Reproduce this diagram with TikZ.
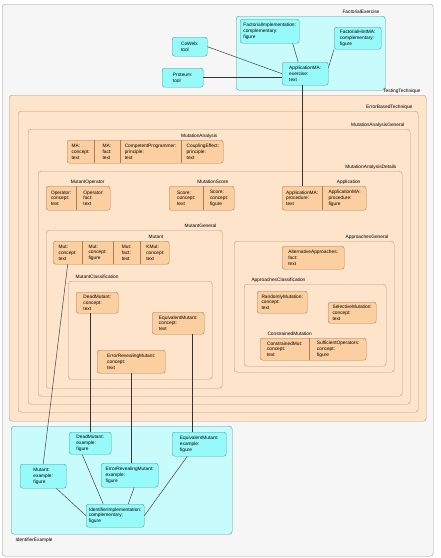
\documentclass[tikz,border=0pt]{standalone}
\usepackage{fontspec}
\setmainfont{Liberation Sans}
\usepackage{xcolor}
\definecolor{FrameFill}{HTML}{F6F6F6}
\definecolor{FrameLine}{HTML}{9C9C9C}
\definecolor{PeachFill}{HTML}{FDE4CA}
\definecolor{PeachLine}{HTML}{B39B84}
\definecolor{OrangeFill}{HTML}{FCCFA0}
\definecolor{OrangeLine}{HTML}{A67F5A}
\definecolor{CyanFill}{HTML}{C8FCFC}
\definecolor{CyanNode}{HTML}{96FAFA}
\definecolor{CyanLine}{HTML}{4E9C9C}
\definecolor{LinkGray}{HTML}{333333}
\usetikzlibrary{positioning,calc}

\begin{document}
\begin{tikzpicture}[
  x=1pt,y=-1pt,
  every node/.style={font=\fontsize{4.8}{5.8}\selectfont},
  sz/.style 2 args={minimum width=#1pt,minimum height=#2pt},
  frame/.style={rounded corners=3pt,draw=FrameLine,fill=FrameFill,anchor=north west,inner sep=0pt},
  area/.style={rounded corners=3pt,draw=PeachLine,fill=PeachFill,anchor=north west,inner sep=0pt},
  cyanarea/.style={rounded corners=3pt,draw=CyanLine,fill=CyanFill,anchor=north west,inner sep=0pt},
  obox/.style={rounded corners=2.5pt,draw=OrangeLine,fill=OrangeFill,anchor=north west,inner sep=0pt,align=left},
  cbox/.style={rounded corners=2.5pt,draw=CyanLine,fill=CyanNode,anchor=north west,inner sep=0pt,align=left},
  part/.style={anchor=north west,inner sep=0pt,align=left},
  sep/.style={draw=OrangeLine},
  tagR/.style={label={[anchor=base east,xshift=-2.5pt,yshift=3pt]north east:#1}},
  tagL/.style={label={[anchor=base west,xshift=4pt,yshift=3pt]north west:#1}},
  tagB/.style={label={[anchor=base west,xshift=1pt,yshift=-7pt]south west:#1}},
  link/.style={draw=LinkGray,line width=0.45pt}
]
\useasboundingbox (0,0) rectangle (440,558);
\node[frame,sz={431}{552}] (outer) at (2,4) {};

% exercise
\node[cyanarea,sz={149}{74},tagR=FactorialExercise] (factex) at (236,16) {};
\node[cbox,sz={59}{24}] (facimpl) at (240,19) {FactorialImplementation:\\complementary:\\figure};
\node[cbox,sz={47}{22}] (fachint) at (334,27) {FactorialHintMA:\\complementary:\\figure};
\node[cbox,sz={46}{23}] (appcyan) at (282,62) {ApplicationMA:\\exercise:\\text};
\node[cbox,sz={35}{19}] (coweb) at (172,37) {CoWeb:\\tool};
\node[cbox,sz={41}{19}] (proteum) at (162,68) {Proteum:\\tool};

% nested areas
\node[area,sz={417}{326},tagR=TestingTechnique] (testing) at (9,95) {};
\node[area,sz={400}{301},tagR=ErrorBasedTechnique] (errbased) at (18,111) {};
\node[area,sz={382}{275},tagR=MutationAnalysisGeneral] (magen) at (28,129) {};
\node[area,sz={364}{225},tagR=MutationAnalysisDetails] (madet) at (38,171) {};
\node[area,sz={176}{158},tagR=MutantGeneral] (mutgen) at (46,230) {};
\node[area,sz={144}{98},tagL=MutantClassification] (mutclass) at (68,281) {};
\node[area,sz={160}{131},tagR=ApproachesGeneral] (appgen) at (234,241) {};
\node[area,sz={142}{82},tagL=ApproachesClassification] (appclass) at (244,284) {};

% MutationAnalysis
\node[obox,sz={156}{23},tagR=MutationAnalysis] (ma) at (67,140) {};
\node[part,sz={27}{23}] (ma1) at (ma.north west) {MA:\\concept:\\text};
\node[part,sz={25}{23},right=0pt of ma1] (ma2) {MA:\\fact:\\text};
\node[part,sz={61}{23},right=0pt of ma2] (ma3) {CompetentProgrammer:\\principle:\\text};
\node[part,sz={43}{23},right=0pt of ma3] (ma4) {CouplingEffect:\\principle:\\text};
\draw[sep] (ma1.north east) -- (ma1.south east) (ma2.north east) -- (ma2.south east)
  (ma3.north east) -- (ma3.south east);

% MutantOperator
\node[obox,sz={64}{24},tagR=MutantOperator] (mo) at (46,186) {};
\node[part,sz={30}{24}] (mo1) at (mo.north west) {Operator:\\concept:\\text};
\node[part,sz={34}{24},right=0pt of mo1] (mo2) {Operator:\\fact:\\text};
\draw[sep] (mo1.north east) -- (mo1.south east);

% MutationScore
\node[obox,sz={65}{24},tagR=MutationScore] (ms) at (169,186) {};
\node[part,sz={34}{24}] (ms1) at (ms.north west) {Score:\\concept:\\text};
\node[part,sz={31}{24},right=0pt of ms1] (ms2) {Score:\\concept:\\figure};
\draw[sep] (ms1.north east) -- (ms1.south east);

% Application
\node[obox,sz={84}{24},tagR=Application] (app) at (282,186) {};
\node[part,sz={40}{24}] (app1) at (app.north west) {ApplicationMA:\\procedure:\\text};
\node[part,sz={44}{24},right=0pt of app1] (app2) {ApplicationMA:\\procedure:\\figure};
\draw[sep] (app1.north east) -- (app1.south east);

% Mutant
\node[obox,sz={116}{23},tagR=Mutant] (mut) at (53,241) {};
\node[part,sz={29}{23}] (mut1) at (mut.north west) {Mut:\\concept:\\text};
\node[part,sz={30}{23},right=0pt of mut1] (mut2) {Mut:\\concept:\\figure};
\node[part,sz={27}{23},right=0pt of mut2] (mut3) {Mut:\\fact:\\text};
\node[part,sz={30}{23},right=0pt of mut3] (mut4) {KMut:\\concept:\\text};
\draw[sep] (mut1.north east) -- (mut1.south east) (mut2.north east) -- (mut2.south east)
  (mut3.north east) -- (mut3.south east);

% classification
\node[obox,sz={42}{21}] (deadc) at (76,292) {DeadMutant:\\concept:\\text};
\node[obox,sz={52}{22}] (equivc) at (152,312) {EquivalentMutant:\\concept:\\text};
\node[obox,sz={68}{23}] (errc) at (97,350) {ErrorRevealingMutant:\\concept:\\text};

% approaches
\node[obox,sz={62}{23}] (altapp) at (282,246) {AlternativeApproaches:\\fact:\\text};
\node[obox,sz={50}{22}] (randm) at (257,291) {RandomlyMutation:\\concept:\\text};
\node[obox,sz={48}{21}] (selm) at (328,302) {SelectiveMutation:\\concept:\\text};
\node[obox,sz={106}{22},tagL=ConstrainedMutation] (cm) at (260,338) {};
\node[part,sz={49}{22}] (cm1) at (cm.north west) {ConstrainedMut:\\concept:\\text};
\node[part,sz={57}{22},right=0pt of cm1] (cm2) {SufficientOperators:\\concept:\\figure};
\draw[sep] (cm1.north east) -- (cm1.south east);

% examples
\node[cyanarea,sz={221}{108},tagB=IdentifierExample] (idex) at (11,426) {};
\node[cbox,sz={42}{22}] (deadx) at (69,432) {DeadMutant:\\example:\\figure};
\node[cbox,sz={54}{24}] (equivx) at (172,432) {EquivalentMutant:\\example:\\figure};
\node[cbox,sz={57}{24}] (errx) at (101,463) {ErrorRevealingMutant:\\example:\\figure};
\node[cbox,sz={46}{24}] (mutx) at (20,464) {Mutant:\\example:\\figure};
\node[cbox,sz={58}{23}] (idimpl) at (86,504) {IdentifierImplementation:\\complementary:\\figure};

% links
\draw[link] (coweb.east) -- (appcyan.west);
\draw[link] (proteum.east) -- (proteum.east -| appcyan.west);
\draw[link] ([xshift=23pt]facimpl.south) -- ([xshift=-7pt]appcyan.north);
\draw[link] (fachint.south west) -- ([yshift=6pt]appcyan.east);
\draw[link] (app1.north |- appcyan.south) -- (app1.north);
\draw[link] (mut1.south) -- (mutx.north);
\draw[link] (deadx.north |- deadc.south) -- (deadx.north);
\draw[link] (errc.south) -- (errc.south |- errx.north);
\coordinate (eqtop) at ([xshift=-7pt]equivx.north);
\draw[link] (eqtop |- equivc.south) -- (eqtop);
\draw[link] (mutx) -- (idimpl.west);
\draw[link] ([xshift=-8pt]deadx.south) -- ([xshift=-12pt]idimpl.north);
\draw[link] ([xshift=4.5pt]errx.south) -- ([xshift=13pt]idimpl.north);
\draw[link] ([xshift=-12pt]equivx.south) -- (idimpl.east);
\end{tikzpicture}
\end{document}
